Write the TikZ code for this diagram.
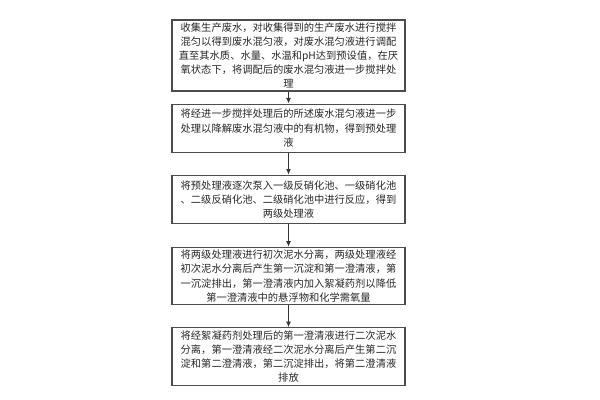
\documentclass[tikz,border=0pt]{standalone}
\usepackage{fontspec}
\newfontfamily\cjk{Noto Sans CJK SC}
\usetikzlibrary{positioning,arrows.meta}
\begin{document}
\begin{tikzpicture}[x=0.025cm,y=-0.025cm,
    stepbox/.style={draw=black!70, line width=0.8pt, align=center,
      font=\cjk\fontsize{7.3}{10}\selectfont, text=black!85, inner sep=2pt, minimum width=5.825cm},
    flow/.style={-{Latex[length=4pt,width=3.5pt]}, line width=0.8pt, draw=black!80}]
  \useasboundingbox (0,0) rectangle (600,400);
  % process steps
  \node[stepbox, minimum height=65*0.025cm] (collect) at (288.5,55.5)
    {收集生产废水，对收集得到的生产废水进行搅拌\\混匀以得到废水混匀液，对废水混匀液进行调配\\直至其水质、水量、水温和pH达到预设值，在厌\\氧状态下，将调配后的废水混匀液进一步搅拌处\\理};
  \node[stepbox, minimum height=48*0.025cm, below=12*0.025cm of collect] (degrade)
    {将经进一步搅拌处理后的所述废水混匀液进一步\\处理以降解废水混匀液中的有机物，得到预处理\\液};
  \node[stepbox, minimum height=48*0.025cm, below=22*0.025cm of degrade] (nitrify)
    {将预处理液逐次泵入一级反硝化池、一级硝化池\\、二级反硝化池、二级硝化池中进行反应，得到\\两级处理液};
  \node[stepbox, minimum height=54*0.025cm, below=23*0.025cm of nitrify] (settle)
    {将两级处理液进行初次泥水分离，两级处理液经\\初次泥水分离后产生第一沉淀和第一澄清液，第\\一沉淀排出，第一澄清液内加入絮凝药剂以降低\\第一澄清液中的悬浮物和化学需氧量};
  \node[stepbox, minimum height=55*0.025cm, below=22*0.025cm of settle] (discharge)
    {将经絮凝药剂处理后的第一澄清液进行二次泥水\\分离，第一澄清液经二次泥水分离后产生第二沉\\淀和第二澄清液，第二沉淀排出，将第二澄清液\\排放};
  \foreach \a/\b in {collect/degrade, degrade/nitrify, nitrify/settle, settle/discharge}
    \draw[flow] (\a) -- (\b);
\end{tikzpicture}
\end{document}
